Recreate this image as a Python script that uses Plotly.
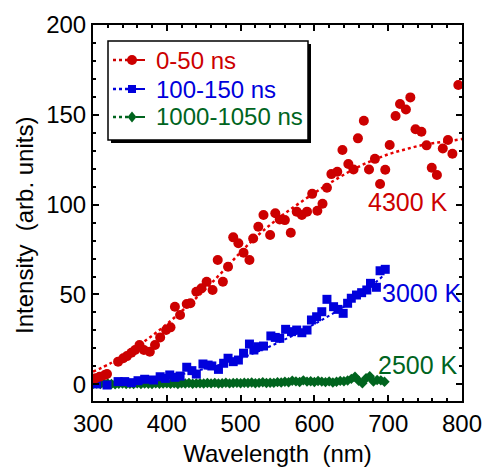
import plotly.graph_objects as go

# ---------------- data ----------------
red_x = [303, 309, 316, 319, 334, 341, 346, 352, 357, 363, 369, 377, 384, 391, 399, 405,
         411, 418, 427, 432, 440, 447, 454, 462, 469, 476, 483, 490, 497, 504, 512, 517,
         524, 531, 540, 547, 553, 560, 568, 576, 583, 590, 597, 604, 611, 617, 623, 631,
         638, 646, 653, 659, 667, 674, 682, 689, 696, 702, 710, 716, 724, 730, 737, 745,
         752, 759, 766, 774, 781, 787, 795]
red_y = [3.3, 4.2, 5.2, 5.7, 12.6, 14.5, 15.7, 17.6, 19.1, 21.9, 19.1, 18.1, 21.9, 26.1, 30.2, 31.7,
         43.2, 38.6, 44.7, 45.1, 51.5, 53.4, 57.1, 52.5, 69.2, 57.1, 65.4, 81.8, 78.5, 73.2, 69.2, 81.2,
         87.7, 94.2, 83.1, 95.2, 91.8, 91.4, 84.4, 96.1, 94.2, 96.1, 106.0, 96.6, 100.5, 109.4, 117.0, 118.3,
         130.4, 122.6, 119.6, 136.9, 146.7, 119.6, 125.5, 111.5, 119.4, 133.2, 149.3, 156.0, 153.0, 159.7, 142.0, 140.6,
         133.0, 120.5, 116.5, 131.3, 136.0, 128.3, 166.6]

red_fit_x = [300, 325, 350, 375, 400, 425, 450, 475, 500, 525, 550, 575, 600, 625, 650, 675, 700, 725, 750, 775, 800]
red_fit_y = [7.0, 12.0, 18.5, 25.5, 33.5, 42.5, 52.0, 62.5, 73.5, 83.5, 92.0, 99.5, 106.5, 113.0, 119.0, 124.0, 128.0, 131.0, 133.5, 135.0, 136.5]

blue_x = [305, 319, 334, 343, 352, 361, 370, 382, 391, 398, 404, 411, 418, 427, 434, 440,
          449, 456, 461, 470, 477, 483, 490, 497, 504, 512, 518, 524, 531, 541, 547, 553,
          561, 569, 576, 583, 590, 596, 603, 610, 617, 626, 632, 639, 645, 650, 657, 664,
          671, 676, 684, 689, 696]
blue_y = [0.2, -0.4, 1.5, 1.5, 0.9, 2.0, 2.8, 2.4, 4.2, 3.3, 5.2, 3.9, 4.6, 9.5, 7.6, 5.7,
          11.3, 10.7, 10.2, 8.3, 11.7, 14.5, 12.6, 13.5, 17.3, 22.4, 19.1, 20.9, 21.3, 26.9, 26.1, 25.6,
          30.6, 29.3, 30.2, 28.7, 30.2, 35.8, 37.6, 40.4, 47.3, 43.2, 41.7, 39.5, 45.1, 47.9, 49.7, 51.0,
          52.5, 56.2, 54.0, 63.2, 64.0]

blue_fit_x = [300, 350, 400, 450, 500, 550, 600, 650, 695]
blue_fit_y = [0.3, 1.5, 4.0, 8.5, 14.5, 23.0, 33.5, 46.0, 61.0]

green_x = [300, 305, 310, 315, 320, 325, 330, 335, 340, 345,
           350, 355, 360, 365, 370, 375, 380, 385, 390, 395,
           400, 405, 410, 415, 420, 425, 430, 435, 440, 445,
           450, 455, 460, 465, 470, 475, 480, 485, 490, 495,
           500, 505, 510, 515, 520, 525, 530, 535, 540, 545,
           550, 555, 560, 565, 570, 575, 580, 585, 590, 595,
           600, 605, 610, 615, 620, 625, 630, 635, 640, 645,
           650, 655, 660, 665, 670, 675, 680, 685, 690, 695]
green_y = [0.2, 0.4, 0.1, 0.3, 0.5, 0.2, 0.0, 0.3, 0.4, 0.1,
           0.3, 0.2, 0.5, 0.1, 0.4, 0.3, 0.2, 0.5, 0.3, 0.4,
           0.6, 0.3, 0.5, 0.2, 0.6, 0.4, 0.7, 0.3, 0.5, 0.6,
           0.4, 0.7, 0.5, 0.8, 0.4, 0.6, 0.9, 0.5, 0.7, 0.8,
           0.6, 0.9, 0.7, 1.0, 0.6, 0.8, 1.1, 0.7, 0.9, 0.8,
           1.2, 1.0, 1.4, 1.1, 2.0, 1.6, 1.3, 2.2, 1.5, 1.7,
           1.3, 1.8, 1.5, 1.2, 1.6, 1.0, 1.4, 1.9, 1.7, 2.1,
           3.0, 4.2, 2.0, 0.6, 3.4, 4.5, 1.5, 2.4, 2.2, 1.4]

green_fit_x = [300, 400, 500, 600, 695]
green_fit_y = [0.0, 0.2, 0.6, 1.3, 2.5]

series_names = ["0-50 ns", "100-150 ns", "1000-1050 ns"]
temp_labels = ["4300 K", "3000 K", "2500 K"]
temp_label_x = [727, 746, 740]
temp_label_y = [101.6, 50.8, 10.7]

x_ticks = [300, 400, 500, 600, 700, 800]
y_ticks = [0, 50, 100, 150, 200]

# ---------------- style ----------------
RED = "rgb(204,0,0)"
BLUE = "rgb(0,0,220)"
GREEN = "rgb(0,100,30)"
FONT = "Liberation Sans, Arial, sans-serif"

W, H = 485, 467
L, R, T, B = 93, 23, 25, 66
PW, PH = W - L - R, H - T - B

def px(pxx):
    return (pxx - L) / PW

def py(pyy):
    return (H - B - pyy) / PH

fig = go.Figure()

# fit lines
fig.add_trace(go.Scatter(x=red_fit_x, y=red_fit_y, mode="lines", line=dict(color="rgb(230,0,0)", width=2.5, dash="dot", shape="spline"), showlegend=False, hoverinfo="skip"))
fig.add_trace(go.Scatter(x=blue_fit_x, y=blue_fit_y, mode="lines", line=dict(color=BLUE, width=2, dash="dot", shape="spline"), showlegend=False, hoverinfo="skip"))
fig.add_trace(go.Scatter(x=green_fit_x, y=green_fit_y, mode="lines", line=dict(color=GREEN, width=2, dash="dot", shape="spline"), showlegend=False, hoverinfo="skip"))

# data points
fig.add_trace(go.Scatter(x=green_x, y=green_y, mode="markers", name=series_names[2], marker=dict(symbol="diamond", size=8, color=GREEN), showlegend=False))
fig.add_trace(go.Scatter(x=blue_x, y=blue_y, mode="markers", name=series_names[1], marker=dict(symbol="square", size=9, color=BLUE), showlegend=False))
fig.add_trace(go.Scatter(x=red_x, y=red_y, mode="markers", name=series_names[0], marker=dict(symbol="circle", size=10, color=RED), showlegend=False))

# temperature labels
for txt, col, xx, yy in zip(temp_labels, [RED, BLUE, GREEN], temp_label_x, temp_label_y):
    fig.add_annotation(x=xx, y=yy, text=txt, showarrow=False, font=dict(size=25, color=col, family=FONT), xanchor="center", yanchor="middle")

# y title
fig.add_annotation(xref="paper", yref="paper", x=px(25), y=py(226), text="Intensity\u00a0\u00a0(arb. units)", textangle=-90,
                   showarrow=False, font=dict(size=24, color="black", family=FONT), xanchor="center", yanchor="middle")

# legend frame (shadow + box)
fig.add_shape(type="rect", xref="paper", yref="paper", x0=px(111), y0=py(143), x1=px(311), y1=py(44), fillcolor="black", line=dict(width=0))
fig.add_shape(type="rect", xref="paper", yref="paper", x0=px(108), y0=py(140), x1=px(308), y1=py(41), fillcolor="white", line=dict(color="black", width=1.5))

# legend entries drawn manually
rows = [60, 89, 117]
cols = [RED, BLUE, GREEN]
cx = 132
for name, col, ry, sym in zip(series_names, cols, rows, ["circle", "square", "diamond"]):
    fig.add_shape(type="line", xref="paper", yref="paper", x0=px(113), x1=px(128), y0=py(ry), y1=py(ry), line=dict(color=col, width=2.5, dash="dot"))
    fig.add_shape(type="line", xref="paper", yref="paper", x0=px(136), x1=px(150), y0=py(ry), y1=py(ry), line=dict(color=col, width=2, dash="dash"))
    if sym == "circle":
        fig.add_shape(type="circle", xref="paper", yref="paper", x0=px(cx - 5), x1=px(cx + 5), y0=py(ry + 5), y1=py(ry - 5), fillcolor=col, line=dict(width=0))
    elif sym == "square":
        fig.add_shape(type="rect", xref="paper", yref="paper", x0=px(cx - 4), x1=px(cx + 4), y0=py(ry + 4), y1=py(ry - 4), fillcolor=col, line=dict(width=0))
    else:
        path = f"M {px(cx - 4.5)} {py(ry)} L {px(cx)} {py(ry - 5.5)} L {px(cx + 4.5)} {py(ry)} L {px(cx)} {py(ry + 5.5)} Z"
        fig.add_shape(type="path", xref="paper", yref="paper", path=path, fillcolor=col, line=dict(width=0))
    fig.add_annotation(xref="paper", yref="paper", x=px(154), y=py(ry), text=name, showarrow=False,
                       font=dict(size=24, color=col, family=FONT), xanchor="left", yanchor="middle")

fig.update_layout(
    width=W, height=H,
    margin=dict(l=L, r=R, t=T, b=B, autoexpand=False),
    paper_bgcolor="white", plot_bgcolor="white",
    font=dict(family=FONT, size=24, color="black"),
    showlegend=False,
    xaxis=dict(range=[300, 800], tickvals=x_ticks, ticks="inside", ticklen=6, tickwidth=2, tickcolor="black",
               showline=True, linewidth=2, linecolor="black", mirror="ticks", showgrid=False, zeroline=False,
               minor=dict(dtick=20, ticks="inside", ticklen=3, tickwidth=1.5, tickcolor="black", showgrid=False),
               tickfont=dict(size=24), ticklabelstandoff=0, automargin=False,
               title=dict(text="Wavelength\u00a0\u00a0(nm)", font=dict(size=24), standoff=19)),
    yaxis=dict(range=[-9.3, 200], tickvals=y_ticks, ticks="inside", ticklen=6, tickwidth=2, tickcolor="black",
               showline=True, linewidth=2, linecolor="black", mirror="ticks", showgrid=False, zeroline=False,
               minor=dict(dtick=10, ticks="inside", ticklen=3, tickwidth=1.5, tickcolor="black", showgrid=False),
               tickfont=dict(size=24), ticklabelstandoff=0, automargin=False),
)

fig.write_html("out.html")
